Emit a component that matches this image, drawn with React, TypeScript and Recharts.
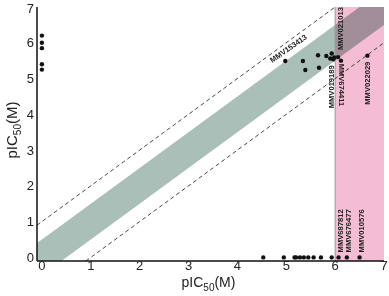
import React from 'react';
import {
  ComposedChart, Area, Scatter, XAxis, YAxis, ReferenceArea, ReferenceLine, Label,
} from 'recharts';

// band y = x ± 0.5, clipped to the plot box
const bandX = [-0.1, 0.4, 6.5, 7];
const bandLow = [-0.1, -0.1, 6, 6.5];
const bandHigh = [0.4, 0.9, 7, 7];

// dashed lines y = x ± 1
const upperDash = [{ x: -0.1, y: 0.9 }, { x: 6, y: 7 }];
const lowerDash = [{ x: 0.9, y: -0.1 }, { x: 7, y: 6 }];

// compounds inactive in assay 1 (x = 0)
const zeroX = [0, 0, 0, 0, 0];
const zeroY = [6.2, 6.0, 5.85, 5.4, 5.25];

// compounds active in both assays
const bothX = [4.98, 5.34, 5.39, 5.65, 5.67, 5.82, 5.9, 5.93, 5.98, 5.96, 6.06, 6.12, 6.66];
const bothY = [5.49, 5.49, 5.24, 5.65, 5.3, 5.63, 5.56, 5.7, 5.59, 5.54, 5.6, 5.5, 5.64];
const bothNames = ['MMV153413', '', '', '', '', '', '', '', '', 'MMV019189', 'MMV021013', 'MMV674411', 'MMV022029'];

// compounds inactive in assay 2 (y = 0)
const flatX = [4.53, 4.95, 5.17, 5.2, 5.28, 5.36, 5.45, 5.56, 5.71, 5.93, 6.07, 6.24, 6.5];
const flatY = [0, 0, 0, 0, 0, 0, 0, 0, 0, 0, 0, 0, 0];
const flatNames = ['', '', '', '', '', '', '', '', '', '', 'MMV687812', 'MMV676477', 'MMV010576'];

const ticks = [0, 1, 2, 3, 4, 5, 6, 7];

const bandData = bandX.map((x, i) => ({ x, band: [bandLow[i], bandHigh[i]] }));
const points = [
  ...zeroX.map((x, i) => ({ x, y: zeroY[i], name: '' })),
  ...bothX.map((x, i) => ({ x, y: bothY[i], name: bothNames[i] })),
  ...flatX.map((x, i) => ({ x, y: flatY[i], name: flatNames[i] })),
];

// where each compound label sits relative to its dot
const labelPlace: Record<string, { dx: number; dy: number; rot: number; anchor: string }> = {
  MMV153413: { dx: -13, dy: 2, rot: -35, anchor: 'start' },
  MMV019189: { dx: 1, dy: 6, rot: -90, anchor: 'end' },
  MMV021013: { dx: 5, dy: -7, rot: -90, anchor: 'start' },
  MMV674411: { dx: -2, dy: 3, rot: 90, anchor: 'start' },
  MMV022029: { dx: 3, dy: 6, rot: -90, anchor: 'end' },
  MMV687812: { dx: 4, dy: -5, rot: -90, anchor: 'start' },
  MMV676477: { dx: 4, dy: -5, rot: -90, anchor: 'start' },
  MMV010576: { dx: 4, dy: -5, rot: -90, anchor: 'start' },
};

const font = 'Arial, "Liberation Sans", sans-serif';

function Dot(props: any) {
  const { cx, cy, payload } = props;
  const p = payload.name ? labelPlace[payload.name] : null;
  return (
    <g>
      <circle cx={cx} cy={cy} r={2.2} fill="#111" />
      {p && (
        <text
          x={cx + p.dx}
          y={cy + p.dy}
          transform={`rotate(${p.rot} ${cx + p.dx} ${cy + p.dy})`}
          textAnchor={p.anchor as any}
          fontSize={7.6}
          fontWeight="bold"
          fontFamily={font}
          fill="#222"
        >
          {payload.name}
        </text>
      )}
    </g>
  );
}

function XTitle(props: any) {
  const { x, y, width } = props.viewBox;
  return (
    <text x={x + width / 2 - 2} y={y + 26} textAnchor="middle" fontSize={14} fontFamily={font} fill="#222">
      pIC<tspan fontSize={10} dy={4}>50</tspan><tspan dy={-4}>(M)</tspan>
    </text>
  );
}

function YTitle(props: any) {
  const { y, height } = props.viewBox;
  const cx = 17;
  const cy = y + height / 2 - 4;
  return (
    <text x={cx} y={cy} transform={`rotate(-90 ${cx} ${cy})`} textAnchor="middle" fontSize={15} fontFamily={font} fill="#222">
      pIC<tspan fontSize={10} dy={4}>50</tspan><tspan dy={-4}>(M)</tspan>
    </text>
  );
}

export default function App() {
  return (
    <div style={{ position: 'absolute', left: 0, top: 0, width: 389, height: 296, background: '#fff' }}>
      <style>{'.recharts-reference-area-rect, .blend, .blend path { mix-blend-mode: multiply; }'}</style>
      <ComposedChart width={389} height={296} data={bandData} margin={{ top: 7, right: 5, bottom: 5, left: 0 }}>
        <XAxis
          dataKey="x"
          type="number"
          domain={[-0.1, 7]}
          ticks={ticks}
          allowDataOverflow
          tickLine={false}
          tickSize={0}
          tickMargin={0}
          axisLine={{ stroke: '#111', strokeWidth: 1.5 }}
          tick={{ fontSize: 13, fill: '#222', fontFamily: font }}
          height={30}
        >
          <Label content={XTitle} />
        </XAxis>
        <YAxis
          dataKey="y"
          type="number"
          domain={[-0.1, 7]}
          ticks={ticks}
          allowDataOverflow
          tickLine={false}
          tickSize={0}
          tickMargin={3}
          axisLine={{ stroke: '#111', strokeWidth: 1.5 }}
          tick={{ fontSize: 13, fill: '#222', fontFamily: font }}
          width={37}
        >
          <Label content={YTitle} />
        </YAxis>
        <ReferenceArea x1={6} x2={7} y1={-0.1} y2={7} fill="#f4bdd4" fillOpacity={1} stroke="none" className="blend" />
        <Area
          dataKey="band"
          type="linear"
          stroke="none"
          fill="#a9bfb8"
          fillOpacity={1}
          isAnimationActive={false}
          className="blend"
        />
        <ReferenceLine x={6} stroke="#9a9a9a" strokeWidth={1} />
        <ReferenceLine segment={upperDash} stroke="#333" strokeDasharray="4 3" strokeWidth={0.9} />
        <ReferenceLine segment={lowerDash} stroke="#333" strokeDasharray="4 3" strokeWidth={0.9} />
        <Scatter data={points} dataKey="y" shape={Dot} isAnimationActive={false} />
      </ComposedChart>
    </div>
  );
}
